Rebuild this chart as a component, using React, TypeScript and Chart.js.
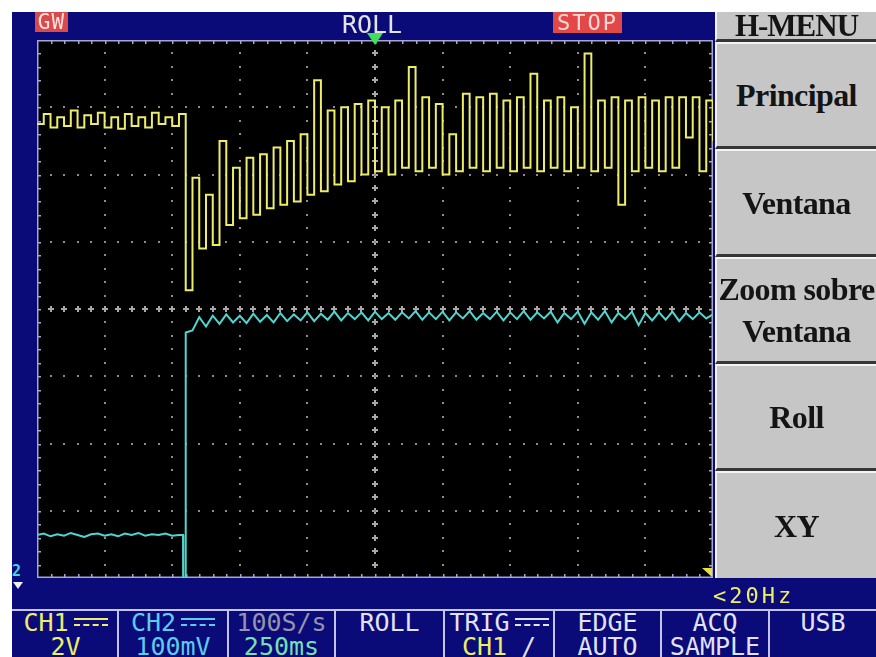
import React, { useEffect, useRef } from "react";
import { Chart, registerables } from "chart.js";

Chart.register(...registerables);

// ---------------- DATA ----------------
// time axis: 250 ms/div, 10 divisions, sample every 25 ms
const TIME_MS = [
  0, 25, 50, 75, 100, 125, 150, 175, 200, 225, 250, 275, 300, 325, 350, 375, 400, 425, 450, 475,
  500, 525, 550, 575, 600, 625, 650, 675, 700, 725, 750, 775, 800, 825, 850, 875, 900, 925, 950, 975,
  1000, 1025, 1050, 1075, 1100, 1125, 1150, 1175, 1200, 1225, 1250, 1275, 1300, 1325, 1350, 1375,
  1400, 1425, 1450, 1475, 1500, 1525, 1550, 1575, 1600, 1625, 1650, 1675, 1700, 1725, 1750, 1775,
  1800, 1825, 1850, 1875, 1900, 1925, 1950, 1975, 2000, 2025, 2050, 2075, 2100, 2125, 2150, 2175,
  2200, 2225, 2250, 2275, 2300, 2325, 2350, 2375, 2400, 2425, 2450, 2475, 2500,
];

// CH1 (yellow), in screen divisions (-4 .. +4)
const CH1_VALUES = [
  2.75, 2.9, 2.7, 2.85, 2.72, 2.95, 2.7, 2.88, 2.75, 2.92, 2.7, 2.85, 2.68, 2.9, 2.72, 2.85, 2.7, 2.92,
  2.75, 2.85, 2.72, 2.9,
  0.28, 1.95, 0.9, 1.7, 0.95, 2.5, 1.25, 2.1, 1.35, 2.25,
  1.4, 2.3, 1.5, 2.4, 1.55, 2.5, 1.6, 2.6, 1.7, 3.4,
  1.75, 2.95, 1.85, 3.0, 1.9, 3.05, 2.0, 3.1, 2.05, 3.0,
  2.0, 3.1, 2.1, 3.6, 2.05, 3.15, 2.1, 3.05, 2.0, 2.6,
  2.05, 3.2, 2.1, 3.15, 2.05, 3.2, 2.1, 3.1, 2.05, 3.15,
  2.1, 3.5, 2.05, 3.1, 2.1, 3.15, 2.05, 3.0, 2.1, 3.8,
  2.05, 3.1, 2.1, 3.15, 1.55, 3.1, 2.05, 3.15, 2.1, 3.1,
  2.05, 3.15, 2.1, 3.15, 2.55, 3.15, 2.05, 3.1, 2.5,
];

// CH2 (cyan)
const CH2_TIME_MS = [
  0, 25, 50, 75, 100, 125, 150, 175, 200, 225, 250, 275, 300, 325, 350, 375, 400, 425, 450, 475,
  500, 525, 540, 541, 548, 550,
  575, 600, 625, 650, 675, 700, 725, 750, 775, 800, 825, 850, 875, 900, 925, 950, 975,
  1000, 1025, 1050, 1075, 1100, 1125, 1150, 1175, 1200, 1225, 1250, 1275, 1300, 1325, 1350, 1375,
  1400, 1425, 1450, 1475, 1500, 1525, 1550, 1575, 1600, 1625, 1650, 1675, 1700, 1725, 1750, 1775,
  1800, 1825, 1850, 1875, 1900, 1925, 1950, 1975, 2000, 2025, 2050, 2075, 2100, 2125, 2150, 2175,
  2200, 2225, 2250, 2275, 2300, 2325, 2350, 2375, 2400, 2425, 2450, 2475, 2500,
];
const CH2_VALUES = [
  -3.36, -3.34, -3.38, -3.35, -3.37, -3.33, -3.36, -3.39, -3.35, -3.34, -3.37, -3.35, -3.38, -3.34,
  -3.36, -3.33, -3.37, -3.35, -3.36, -3.34, -3.37, -3.36,
  -3.36, -4.6, -4.6, -0.35,
  -0.32, -0.12, -0.26, -0.1, -0.22, -0.08, -0.2, -0.1, -0.21, -0.07,
  -0.19, -0.09, -0.2, -0.06, -0.18, -0.08, -0.17, -0.05, -0.18, -0.07,
  -0.16, -0.04, -0.17, -0.06, -0.15, -0.05, -0.17, -0.04, -0.15, -0.06,
  -0.16, -0.05, -0.14, -0.03, -0.16, -0.05, -0.15, -0.04, -0.17, -0.05,
  -0.14, -0.03, -0.16, -0.06, -0.15, -0.04, -0.17, -0.05, -0.15, -0.03,
  -0.16, -0.05, -0.14, -0.04, -0.2, -0.06, -0.15, -0.04, -0.22, -0.05,
  -0.16, -0.03, -0.2, -0.06, -0.15, -0.04, -0.24, -0.06, -0.17, -0.05,
  -0.16, -0.04, -0.18, -0.06, -0.15, -0.05, -0.14, -0.08,
];

const X_DIVS = 10;
const Y_DIVS = 8;
const MS_PER_DIV = 250;
const Y_MIN = -4;
const Y_MAX = 4;

// ---------------- TEXT ----------------
const TOP_LEFT_TAG = "GW";
const TOP_MODE = "ROLL";
const TOP_STATE = "STOP";
const MENU_TITLE = "H-MENU";
const MENU_ITEMS = [["Principal"], ["Ventana"], ["Zoom sobre", "Ventana"], ["Roll"], ["XY"]];
const FREQ_LABEL = "<20Hz";
const STATUS_LINE1 = ["CH1", "CH2", "100S/s", "ROLL", "TRIG", "EDGE", "ACQ", "USB"];
const STATUS_LINE2 = ["2V", "100mV", "250ms", "", "CH1", "AUTO", "SAMPLE", ""];

// ---------------- STYLE ----------------
const NAVY = "#0a0a78";
const YELLOW = "#eded6a";
const CYAN = "#4fd6d0";
const TXT_WHITE = "#e2e2f6";
const CH2_TXT = "#5ccbec";
const MENU_GRAY = "#c6c6c6";
const MONO = "'DejaVu Sans Mono', monospace";
const SERIF = "'Liberation Serif', 'DejaVu Serif', serif";

const scopePlugin = {
  id: "scopeScreen",
  beforeDraw(chart: any) {
    const { ctx, chartArea: a } = chart;
    ctx.save();
    ctx.fillStyle = "#000000";
    ctx.fillRect(a.left, a.top, a.right - a.left, a.bottom - a.top);
    ctx.restore();
  },
  beforeDatasetsDraw(chart: any) {
    const { ctx, chartArea: a, scales } = chart;
    const xs = scales.x;
    const ys = scales.y;
    ctx.save();
    const dot = "#8c8c8c";
    const cross = "#a8a8a8";
    // vertical division lines
    for (let k = 1; k < X_DIVS; k++) {
      const px = Math.round(xs.getPixelForValue(k * MS_PER_DIV));
      for (let j = 1; j < Y_DIVS * 5; j++) {
        const py = Math.round(ys.getPixelForValue(Y_MIN + j * 0.2));
        if (k === X_DIVS / 2) {
          ctx.fillStyle = cross;
          ctx.fillRect(px - 1, py - 3, 2, 6);
          ctx.fillRect(px - 3, py - 1, 6, 2);
        } else {
          ctx.fillStyle = dot;
          ctx.fillRect(px - 1, py - 1, 2, 2);
        }
      }
    }
    // horizontal division lines
    for (let k = 1; k < Y_DIVS; k++) {
      const py = Math.round(ys.getPixelForValue(Y_MIN + k));
      for (let j = 1; j < X_DIVS * 5; j++) {
        const px = Math.round(xs.getPixelForValue((j * MS_PER_DIV) / 5));
        if (k === Y_DIVS / 2) {
          ctx.fillStyle = cross;
          ctx.fillRect(px - 1, py - 3, 2, 6);
          ctx.fillRect(px - 3, py - 1, 6, 2);
        } else {
          ctx.fillStyle = dot;
          ctx.fillRect(px - 1, py - 1, 2, 2);
        }
      }
    }
    // border + ticks
    ctx.strokeStyle = "#a6a6d2";
    ctx.lineWidth = 1.5;
    ctx.strokeRect(a.left + 0.75, a.top + 0.75, a.right - a.left - 1.5, a.bottom - a.top - 1.5);
    ctx.fillStyle = "#a6a6d2";
    for (let j = 1; j < X_DIVS * 5; j++) {
      const px = Math.round(xs.getPixelForValue((j * MS_PER_DIV) / 5));
      ctx.fillRect(px, a.top, 1.5, 4);
      ctx.fillRect(px, a.bottom - 4, 1.5, 4);
    }
    for (let j = 1; j < Y_DIVS * 5; j++) {
      const py = Math.round(ys.getPixelForValue(Y_MIN + j * 0.2));
      ctx.fillRect(a.left, py, 4, 1.5);
      ctx.fillRect(a.right - 4, py, 4, 1.5);
    }
    ctx.restore();
  },
  afterDraw(chart: any) {
    const { ctx, chartArea: a, scales } = chart;
    const px = scales.x.getPixelForValue((X_DIVS * MS_PER_DIV) / 2);
    ctx.save();
    ctx.fillStyle = "#3fe05c";
    ctx.beginPath();
    ctx.moveTo(px - 8, a.top - 7);
    ctx.lineTo(px + 8, a.top - 7);
    ctx.lineTo(px, a.top + 5);
    ctx.closePath();
    ctx.fill();
    // trigger marker
    ctx.fillStyle = "#e6e040";
    ctx.beginPath();
    ctx.moveTo(a.right - 11, a.bottom - 10);
    ctx.lineTo(a.right - 1, a.bottom - 10);
    ctx.lineTo(a.right - 1, a.bottom - 1);
    ctx.closePath();
    ctx.fill();
    ctx.restore();
  },
};

const SEPARATORS = [117, 227, 334, 443, 553, 660, 768];
const CELL_EDGES = [12, 117, 227, 334, 443, 553, 660, 768, 876];

function Coupling({ color }: { color: string }) {
  return (
    <span
      style={{
        display: "inline-block",
        width: 34,
        height: 4,
        borderTop: `2px solid ${color}`,
        borderBottom: `2px dashed ${color}`,
        verticalAlign: "middle",
        marginLeft: 5,
        marginTop: -4,
      }}
    />
  );
}

export default function App() {
  const canvasRef = useRef<HTMLCanvasElement>(null);

  useEffect(() => {
    document.documentElement.style.overflow = "hidden";
    const ch1 = TIME_MS.map((t, i) => ({ x: t, y: CH1_VALUES[i] }));
    const ch2 = CH2_TIME_MS.map((t, i) => ({ x: t, y: CH2_VALUES[i] }));
    const chart = new Chart(canvasRef.current!, {
      type: "line",
      data: {
        datasets: [
          {
            label: "CH2",
            data: ch2,
            borderColor: CYAN,
            borderWidth: 2,
            pointRadius: 0,
            tension: 0,
          },
          {
            label: "CH1",
            data: ch1,
            borderColor: YELLOW,
            borderWidth: 2,
            pointRadius: 0,
            stepped: true,
          },
        ],
      },
      options: {
        animation: false,
        responsive: false,
        devicePixelRatio: 1,
        layout: { padding: { left: 4, top: 10, right: 2, bottom: 4 } },
        plugins: { legend: { display: false }, tooltip: { enabled: false } },
        scales: {
          x: { type: "linear", min: 0, max: X_DIVS * MS_PER_DIV, display: false },
          y: { type: "linear", min: Y_MIN, max: Y_MAX, display: false },
        },
      },
      plugins: [scopePlugin],
    } as any);
    return () => chart.destroy();
  }, []);

  const abs = (s: React.CSSProperties): React.CSSProperties => ({ position: "absolute", ...s });

  const menuTops = [42, 149, 257, 364, 471, 578];

  const line1Content = (i: number) => {
    if (i === 0)
      return (
        <span style={{ color: YELLOW }}>
          {STATUS_LINE1[0]}
          <Coupling color={YELLOW} />
        </span>
      );
    if (i === 1)
      return (
        <span style={{ color: CH2_TXT }}>
          {STATUS_LINE1[1]}
          <Coupling color={CH2_TXT} />
        </span>
      );
    if (i === 2) return <span style={{ color: "#9494ac" }}>{STATUS_LINE1[2]}</span>;
    if (i === 4)
      return (
        <span style={{ color: TXT_WHITE }}>
          {STATUS_LINE1[4]}
          <Coupling color={TXT_WHITE} />
        </span>
      );
    return <span style={{ color: TXT_WHITE }}>{STATUS_LINE1[i]}</span>;
  };
  const line2Content = (i: number) => {
    if (i === 0) return <span style={{ color: YELLOW }}>{STATUS_LINE2[0]}</span>;
    if (i === 1) return <span style={{ color: CH2_TXT }}>{STATUS_LINE2[1]}</span>;
    if (i === 2) return <span style={{ color: "#74e0b4" }}>{STATUS_LINE2[2]}</span>;
    if (i === 4)
      return (
        <span>
          <span style={{ color: YELLOW }}>{STATUS_LINE2[4]}</span>
          <span style={{ color: TXT_WHITE, marginLeft: 14 }}>/</span>
        </span>
      );
    return <span style={{ color: TXT_WHITE }}>{STATUS_LINE2[i]}</span>;
  };

  return (
    <div
      style={abs({
        left: 0,
        top: 0,
        width: 876,
        height: 657,
        background: "#ffffff",
        overflow: "hidden",
        fontFamily: MONO,
      })}
    >
      <div style={abs({ left: 12, top: 12, width: 864, height: 645, background: NAVY })} />
      <canvas
        ref={canvasRef}
        width={682}
        height={552}
        style={abs({ left: 33, top: 30, width: 682, height: 552 })}
      />

      {/* top status bar */}
      <div
        style={abs({
          left: 35,
          top: 12,
          width: 33,
          height: 20,
          background: "#d94a4a",
          color: "#ffe2e2",
          fontSize: 21,
          lineHeight: "20px",
          textAlign: "center",
          letterSpacing: 1,
        })}
      >
        {TOP_LEFT_TAG}
      </div>
      <div
        style={abs({
          left: 297,
          top: 12,
          width: 150,
          fontSize: 25,
          lineHeight: "25px",
          textAlign: "center",
          color: "#e4e4e4",
        })}
      >
        {TOP_MODE}
      </div>
      <div
        style={abs({
          left: 553,
          top: 12,
          width: 69,
          height: 21,
          background: "#e24848",
          color: "#ffd8d8",
          fontSize: 22,
          lineHeight: "21px",
          textAlign: "center",
          letterSpacing: 2,
        })}
      >
        {TOP_STATE}
      </div>

      {/* right menu */}
      <div
        style={abs({
          left: 715,
          top: 12,
          width: 161,
          height: 30,
          boxSizing: "border-box",
          background: MENU_GRAY,
          borderLeft: "2px solid #f2f2f2",
          borderBottom: "3px solid #343434",
          fontFamily: SERIF,
          fontWeight: "bold",
          fontSize: 31,
          lineHeight: "27px",
          textAlign: "center",
          color: "#141414",
          letterSpacing: -1,
        })}
      >
        {MENU_TITLE}
      </div>
      {MENU_ITEMS.map((lines, i) => (
        <div
          key={i}
          style={abs({
            left: 715,
            top: menuTops[i],
            width: 161,
            height: menuTops[i + 1] - menuTops[i],
            boxSizing: "border-box",
            background: MENU_GRAY,
            borderTop: "2px solid #f4f4f4",
            borderLeft: "2px solid #f4f4f4",
            borderBottom: i < MENU_ITEMS.length - 1 ? "3px solid #363636" : "none",
            display: "flex",
            flexDirection: "column",
            alignItems: "center",
            justifyContent: "center",
            fontFamily: SERIF,
            fontWeight: "bold",
            fontSize: 32,
            lineHeight: "42px",
            color: "#141414",
            whiteSpace: "nowrap",
            letterSpacing: -0.6,
          })}
        >
          {lines.map((l, j) => (
            <div key={j}>{l}</div>
          ))}
        </div>
      ))}

      {/* frequency readout */}
      <div style={abs({ left: 713, top: 585, fontSize: 22, lineHeight: "22px", letterSpacing: 3, color: YELLOW })}>
        {FREQ_LABEL}
      </div>

      {/* channel 2 ground marker */}
      <div style={abs({ left: 12, top: 563, fontSize: 15, fontWeight: "bold", lineHeight: "16px", color: "#44d8e6" })}>
        2
      </div>
      <div
        style={abs({
          left: 13,
          top: 582,
          width: 0,
          height: 0,
          borderLeft: "5px solid transparent",
          borderRight: "5px solid transparent",
          borderTop: "7px solid #f0f0f0",
        })}
      />

      {/* bottom status bar */}
      <div style={abs({ left: 12, top: 609, width: 864, height: 2, background: "#c4c4ec" })} />
      {SEPARATORS.map((x) => (
        <div key={x} style={abs({ left: x, top: 609, width: 2, height: 48, background: "#c4c4ec" })} />
      ))}
      {STATUS_LINE1.map((_, i) => (
        <div
          key={i}
          style={abs({
            left: CELL_EDGES[i] + 2,
            top: 611,
            width: CELL_EDGES[i + 1] - CELL_EDGES[i] - 2,
            fontSize: 25,
            lineHeight: "24px",
            textAlign: "center",
            whiteSpace: "pre",
          })}
        >
          <div>{line1Content(i)}</div>
          <div>{line2Content(i)}</div>
        </div>
      ))}
    </div>
  );
}
